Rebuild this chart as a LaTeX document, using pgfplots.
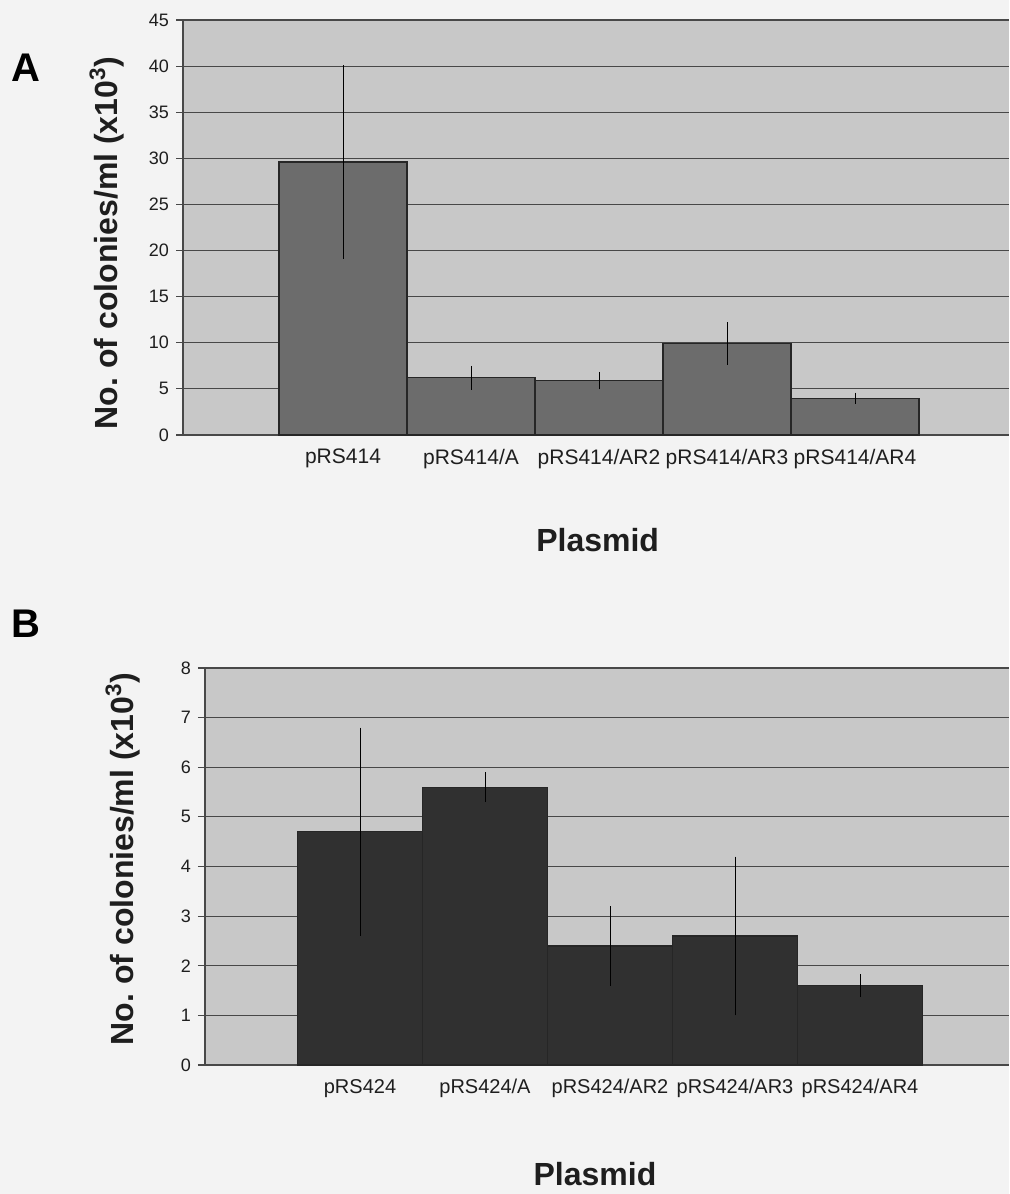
\documentclass[border=0pt]{standalone}
\usepackage{fontspec}
\setmainfont{Liberation Sans}
\usepackage{pgfplots}
\pgfplotsset{compat=1.18}

\definecolor{pagebg}{RGB}{243,243,243}
\definecolor{plotbg}{RGB}{200,200,200}
\definecolor{barA}{RGB}{108,108,108}
\definecolor{barB}{RGB}{48,48,48}
\definecolor{gridc}{RGB}{72,72,72}
\definecolor{textc}{RGB}{30,30,30}

\pgfplotsset{
  excel/.style={
    scale only axis,
    axis background/.style={fill=plotbg},
    axis x line*=bottom, axis y line*=left,
    axis line style={-, draw=gridc, line width=0.8pt},
    ymajorgrids, grid style={gridc, line width=0.6pt},
    tick align=outside, major tick length=3.5pt,
    ytick style={draw=gridc, line width=0.6pt},
    xtick style={draw=none},
    xtick={1,...,5},
    ymin=0,
    tick label style={font=\fontsize{9}{10}\selectfont, text=textc},
    xticklabel style={font=\fontsize{10.5}{12}\selectfont, text=textc},
    /pgf/number format/assume math mode=true,
    label style={font=\bfseries\fontsize{16}{18}\selectfont, text=textc},
  },
  bars/.style={
    ybar, bar width=1, draw=black!85, line width=0.6pt, fill=#1,
    error bars/.cd, y dir=both, y explicit, error mark=none,
    error bar style={black, line width=0.5pt},
  },
}

\begin{document}
\begin{tikzpicture}
\useasboundingbox (0,0) rectangle (504.5pt,-597pt);
\fill[pagebg] (0,0) rectangle (504.5pt,-597pt);

\node[font=\bfseries\fontsize{20}{21}\selectfont] at (13pt,-34pt) {A};
\node[font=\bfseries\fontsize{20}{21}\selectfont] at (13pt,-312pt) {B};

% panel A
\begin{axis}[excel,
  at={(91.5pt,-217.5pt)}, anchor=south west,
  width=413pt, height=207.5pt,
  xmin=-0.25, xmax=6.203,
  ymax=45, ytick={0,5,...,45},
  xticklabels={pRS414, pRS414/A, pRS414/AR2, pRS414/AR3, pRS414/AR4},
  ylabel={No.\ of colonies/ml (x10\textsuperscript{3})},
  ylabel style={at={(axis description cs:-0.092,0.463)}, anchor=center},
  xlabel={Plasmid},
  xlabel style={at={(axis description cs:0.502,-0.253)}, anchor=center},
]
\addplot[bars=barA] coordinates {
  (1,29.6) +- (0,10.5)
  (2,6.2) +- (0,1.3)
  (3,5.9) +- (0,0.95)
  (4,9.9) +- (0,2.3)
  (5,4.0) +- (0,0.6)
};
\end{axis}

% panel B
\begin{axis}[excel,
  at={(102.5pt,-532.5pt)}, anchor=south west,
  width=402pt, height=198.5pt,
  xmin=-0.24, xmax=6.192,
  ymax=8, ytick={0,1,...,8},
  xticklabels={pRS424, pRS424/A, pRS424/AR2, pRS424/AR3, pRS424/AR4},
  xticklabel style={font=\fontsize{10}{12}\selectfont},
  ylabel={No.\ of colonies/ml (x10\textsuperscript{3})},
  ylabel style={at={(axis description cs:-0.102,0.519)}, anchor=center},
  xlabel={Plasmid},
  xlabel style={at={(axis description cs:0.485,-0.275)}, anchor=center},
]
\addplot[bars=barB] coordinates {
  (1,4.7) +- (0,2.1)
  (2,5.6) +- (0,0.3)
  (3,2.4) +- (0,0.8)
  (4,2.6) +- (0,1.6)
  (5,1.6) +- (0,0.23)
};
\end{axis}
\end{tikzpicture}
\end{document}
